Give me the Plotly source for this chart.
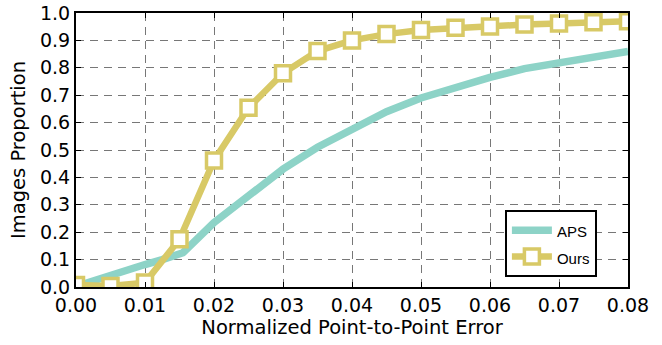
import plotly.graph_objects as go

aps_x = [0.0012, 0.005, 0.01, 0.0125, 0.0155, 0.02, 0.025, 0.03, 0.035, 0.04, 0.045, 0.05, 0.055, 0.06, 0.065, 0.07, 0.075, 0.08]
aps_y = [0.012, 0.045, 0.082, 0.10, 0.125, 0.235, 0.335, 0.43, 0.51, 0.575, 0.64, 0.69, 0.73, 0.765, 0.797, 0.82, 0.84, 0.86]

ours_x = [0.0, 0.005, 0.01, 0.015, 0.02, 0.025, 0.03, 0.035, 0.04, 0.045, 0.05, 0.055, 0.06, 0.065, 0.07, 0.075, 0.08]
ours_y = [0.007, 0.004, 0.016, 0.174, 0.462, 0.654, 0.78, 0.861, 0.90, 0.923, 0.938, 0.946, 0.951, 0.958, 0.962, 0.966, 0.97]

x_ticks = [0.0, 0.01, 0.02, 0.03, 0.04, 0.05, 0.06, 0.07, 0.08]
y_ticks = [0.0, 0.1, 0.2, 0.3, 0.4, 0.5, 0.6, 0.7, 0.8, 0.9, 1.0]

series_names = ["APS", "Ours"]

teal = "#8dd3c7"
yellow = "#d8c966"

fig = go.Figure()
fig.add_trace(go.Scatter(x=aps_x, y=aps_y, mode="lines",
                         name="<span style='font-size:15px'>%s</span>" % series_names[0],
                         line=dict(color=teal, width=7.5)))
fig.add_trace(go.Scatter(x=ours_x, y=ours_y, mode="lines+markers",
                         name="<span style='font-size:15px'>%s</span>" % series_names[1],
                         line=dict(color=yellow, width=6.5),
                         marker=dict(symbol="square", size=15, color="white",
                                     line=dict(color=yellow, width=3.5))))

axis_common = dict(
    showline=True, linecolor="black", linewidth=2, mirror="allticks",
    ticks="inside", ticklen=5, tickwidth=1, tickcolor="black",
    showgrid=True, gridcolor="#777777", gridwidth=1, griddash="8px,6px",
    zeroline=False, automargin=False, ticklabeloverflow="allow",
    tickfont=dict(family="DejaVu Sans", size=19, color="black"),
)

fig.update_xaxes(range=[0, 0.08], tickvals=x_ticks, tickformat=".2f",
                 title=dict(text="Normalized Point-to-Point Error",
                            font=dict(family="DejaVu Sans", size=19.5, color="black"),
                            standoff=5),
                 **axis_common)
fig.update_yaxes(range=[0, 1.0], tickvals=y_ticks, tickformat=".1f",
                 title=dict(text="Images Proportion",
                            font=dict(family="DejaVu Sans", size=19.5, color="black"),
                            standoff=9),
                 **axis_common)

fig.update_layout(
    width=662, height=345,
    margin=dict(l=76, r=34, t=13, b=58, autoexpand=False),
    plot_bgcolor="white", paper_bgcolor="white",
    showlegend=True,
    legend=dict(x=0.777, y=0.0365, xanchor="left", yanchor="bottom",
                bgcolor="white", bordercolor="black", borderwidth=2,
                font=dict(family="Liberation Sans", size=18, color="black"),
                itemwidth=40),
)

fig.write_html("out.html", config={"displayModeBar": False},
               post_script="document.body.style.margin='0';document.body.style.padding='0';")
